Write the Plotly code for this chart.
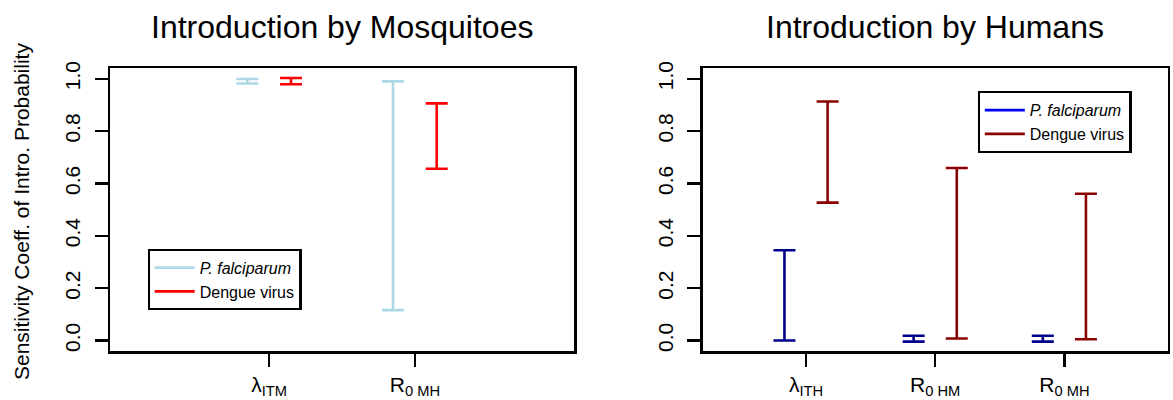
import plotly.graph_objects as go

# ---------------- data ----------------
mosq_categories = ["λ<sub>ITM</sub>", "R<sub>0 MH</sub>"]
mosq_pf_low = [0.982, 0.116]
mosq_pf_high = [0.999, 0.990]
mosq_den_low = [0.979, 0.656]
mosq_den_high = [1.003, 0.906]

hum_categories = ["λ<sub>ITH</sub>", "R<sub>0 HM</sub>", "R<sub>0 MH</sub>"]
hum_pf_low = [0.000, -0.004, -0.004]
hum_pf_high = [0.345, 0.018, 0.018]
hum_den_low = [0.527, 0.008, 0.005]
hum_den_high = [0.913, 0.659, 0.561]

y_ticks = [0.0, 0.2, 0.4, 0.6, 0.8, 1.0]
series_names = ["<i>P. falciparum</i>", "Dengue virus"]

FONT = "Liberation Sans, Arial, Helvetica, sans-serif"
W, H = 1173, 400

fig = go.Figure()


def add_bars(xs, lows, highs, color, xa, ya):
    fig.add_trace(go.Scatter(
        x=xs, y=lows, mode="markers",
        marker=dict(size=1, opacity=0, color=color),
        error_y=dict(type="data", symmetric=False,
                     array=[h - l for l, h in zip(lows, highs)],
                     arrayminus=[0] * len(lows),
                     color=color, thickness=2.6, width=11),
        xaxis=xa, yaxis=ya, showlegend=False, hoverinfo="skip"))


def add_legend_entry(name, color, legend):
    fig.add_trace(go.Scatter(
        x=[None], y=[None], mode="lines", name=name,
        line=dict(color=color, width=2.6),
        legend=legend, showlegend=True, xaxis="x", yaxis="y"))


# left panel
pos_m = list(range(1, len(mosq_categories) + 1))
add_bars([p - 0.15 for p in pos_m], mosq_pf_low, mosq_pf_high, "#ADD8E6", "x", "y")
add_bars([p + 0.15 for p in pos_m], mosq_den_low, mosq_den_high, "#FF0000", "x", "y")
add_legend_entry(series_names[0], "#ADD8E6", "legend")
add_legend_entry(series_names[1], "#FF0000", "legend")

# right panel
pos_h = list(range(1, len(hum_categories) + 1))
add_bars([p - 0.167 for p in pos_h], hum_pf_low, hum_pf_high, "#00008B", "x2", "y2")
add_bars([p + 0.167 for p in pos_h], hum_den_low, hum_den_high, "#8B0000", "x2", "y2")
add_legend_entry(series_names[0], "#0000FF", "legend2")
add_legend_entry(series_names[1], "#8B0000", "legend2")

ydom = [(H - 351) / H, (H - 68.3) / H]

common_x = dict(showline=True, mirror=True, linecolor="black", linewidth=2.5,
                ticks="outside", ticklen=13, tickwidth=2.5, tickcolor="black",
                showgrid=False, zeroline=False, fixedrange=True,
                tickfont=dict(family=FONT, size=21, color="black"),
                ticklabelstandoff=0)
common_y = dict(showline=True, mirror=True, linecolor="black", linewidth=2.5,
                ticks="outside", ticklen=13, tickwidth=2.5, tickcolor="black",
                showgrid=False, zeroline=False, fixedrange=True,
                range=[-0.04, 1.04], tickvals=y_ticks, tickformat=".1f",
                tickangle=-90, domain=ydom,
                tickfont=dict(family=FONT, size=21, color="black"),
                ticklabelstandoff=6)

legend_common = dict(xanchor="left", yanchor="top",
                     bordercolor="black", borderwidth=2.2, bgcolor="white",
                     font=dict(family=FONT, size=16, color="black"),
                     tracegroupgap=0, itemwidth=40)

fig.update_layout(
    width=W, height=H,
    margin=dict(l=0, r=0, t=0, b=0, autoexpand=False),
    paper_bgcolor="white", plot_bgcolor="white",
    font=dict(family=FONT, color="black"),
    xaxis=dict(common_x, domain=[110 / W, 574 / W], range=[-0.092, 3.092],
               tickvals=pos_m, ticktext=mosq_categories, anchor="y"),
    yaxis=dict(common_y, anchor="x"),
    xaxis2=dict(common_x, domain=[702.7 / W, 1167.7 / W], range=[0.2, 3.8],
                tickvals=pos_h, ticktext=hum_categories, anchor="y2"),
    yaxis2=dict(common_y, anchor="x2"),
    legend=dict(legend_common, x=147.5 / W, y=(H - 248.5) / H),
    legend2=dict(legend_common, x=977.6 / W, y=(H - 91) / H),
    annotations=[
        dict(text="Introduction by Mosquitoes", x=(110 + 574) / 2 / W, y=(H - 27) / H,
             xref="paper", yref="paper", showarrow=False,
             xanchor="center", yanchor="middle",
             font=dict(family=FONT, size=32, color="black")),
        dict(text="Introduction by Humans", x=(702.7 + 1167.7) / 2 / W, y=(H - 27) / H,
             xref="paper", yref="paper", showarrow=False,
             xanchor="center", yanchor="middle",
             font=dict(family=FONT, size=32, color="black")),
        dict(text="Sensitivity Coeff. of Intro. Probability", textangle=-90,
             x=21 / W, y=(H - 212) / H, xref="paper", yref="paper",
             showarrow=False, xanchor="center", yanchor="middle",
             font=dict(family=FONT, size=21, color="black")),
    ],
)

fig.write_html("out.html",
               config={"displayModeBar": False, "staticPlot": True},
               post_script="document.body.style.margin='0px';"
                           "document.body.style.overflow='hidden';")
